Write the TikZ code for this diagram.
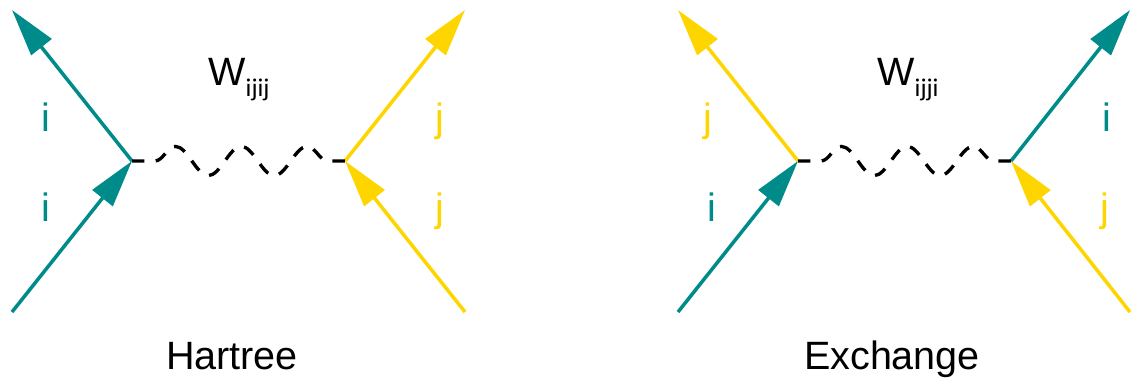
\documentclass[tikz,border=0pt]{standalone}
\usepackage{fontspec}
\setmainfont{Liberation Sans}
\newfontfamily\subfont{Carlito}
\usetikzlibrary{arrows.meta}
\usetikzlibrary{decorations.pathmorphing}
\definecolor{myteal}{RGB}{0,139,139}
\definecolor{mygold}{RGB}{255,213,0}

\tikzset{
  fermion/.style={line width=2pt, -{Triangle[length=27pt, width=14.5pt]}},
  interaction/.style={line width=1.9pt, dash pattern=on 7pt off 6.5pt, decorate,
    decoration={snake, amplitude=8.3pt, segment length=37.5pt, pre length=13pt, post length=5pt}},
  lbl/.style={font=\fontsize{22.5}{26}\selectfont, inner sep=0pt, anchor=base}
}
\newcommand{\wlabel}[1]{W\raisebox{-6.8pt}{\subfont\fontsize{14.5}{16}\selectfont #1}}

\begin{document}
\begin{tikzpicture}[x=0.02cm, y=-0.02cm]
\useasboundingbox (0,0) rectangle (1131,383);

%Hartree diagram
\coordinate (hL) at (132,161);
\coordinate (hR) at (345,161);
\coordinate (hLin) at (12,312);
\coordinate (hLout) at (12,10);
\coordinate (hRin) at (465,312);
\coordinate (hRout) at (465,10);

\draw[fermion, myteal] (hLin) -- (hL);
\draw[fermion, myteal] (hL) -- (hLout);
\draw[fermion, mygold] (hRin) -- (hR);
\draw[fermion, mygold] (hR) -- (hRout);
\draw[interaction] (hL) -- (hR);

\node[lbl, myteal] (hLa) at (46,131) {i};
\node[lbl, myteal] (hLb) at (46,221) {i};
\node[lbl, mygold] (hRa) at (440,131) {j};
\node[lbl, mygold] (hRb) at (440,221) {j};
\node[lbl, anchor=base west] (hW) at (208,85) {\wlabel{ijij}};
\node[lbl] (hname) at (232,369) {Hartree};

%exchange diagram
\coordinate (xL) at (798,161);
\coordinate (xR) at (1011,161);
\coordinate (xLin) at (678,312);
\coordinate (xLout) at (678,10);
\coordinate (xRin) at (1130,312);
\coordinate (xRout) at (1130,10);

\draw[fermion, myteal] (xLin) -- (xL);
\draw[fermion, mygold] (xL) -- (xLout);
\draw[fermion, mygold] (xRin) -- (xR);
\draw[fermion, myteal] (xR) -- (xRout);
\draw[interaction] (xL) -- (xR);

\node[lbl, mygold] (xLa) at (708,131) {j};
\node[lbl, myteal] (xLb) at (712,221) {i};
\node[lbl, myteal] (xRa) at (1107,131) {i};
\node[lbl, mygold] (xRb) at (1105,221) {j};
\node[lbl, anchor=base west] (xW) at (877,85) {\wlabel{ijji}};
\node[lbl] (xname) at (892,369) {Exchange};

\end{tikzpicture}
\end{document}
